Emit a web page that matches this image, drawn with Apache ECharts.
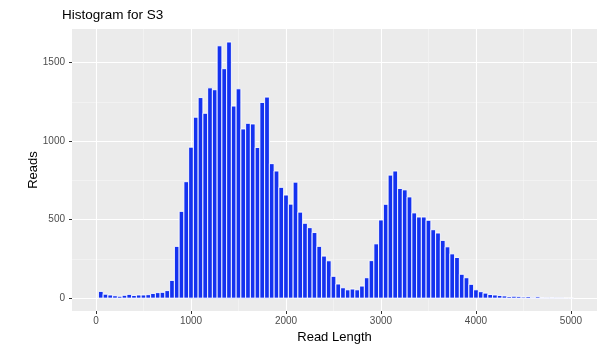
<!DOCTYPE html>
<html>
<head>
<meta charset="utf-8">
<script src="https://cdn.jsdelivr.net/npm/echarts@6/dist/echarts.min.js"></script>
<style>
  html, body { margin: 0; padding: 0; background: #fff; }
  #chart { width: 611px; height: 349px; }
</style>
</head>
<body>
<div id="chart"></div>
<script>
// Read-length histogram, 50-wide bins (bin centres below)
const binWidth = 50;
const binCenters = [
  50, 100, 150, 200, 250, 300, 350, 400, 450, 500,
  550, 600, 650, 700, 750, 800, 850, 900, 950, 1000,
  1050, 1100, 1150, 1200, 1250, 1300, 1350, 1400, 1450, 1500,
  1550, 1600, 1650, 1700, 1750, 1800, 1850, 1900, 1950, 2000,
  2050, 2100, 2150, 2200, 2250, 2300, 2350, 2400, 2450, 2500,
  2550, 2600, 2650, 2700, 2750, 2800, 2850, 2900, 2950, 3000,
  3050, 3100, 3150, 3200, 3250, 3300, 3350, 3400, 3450, 3500,
  3550, 3600, 3650, 3700, 3750, 3800, 3850, 3900, 3950, 4000,
  4050, 4100, 4150, 4200, 4250, 4300, 4350, 4400, 4450, 4500,
  4550, 4600, 4650, 4700, 4750, 4800, 4850, 4900, 4950, 5000
];
const readCounts = [
  43, 25, 20, 15, 12, 18, 24, 17, 20, 20,
  22, 30, 35, 37, 48, 113, 330, 553, 742, 962,
  1153, 1278, 1178, 1340, 1328, 1608, 1462, 1632, 1224, 1334,
  1078, 1114, 1110, 960, 1247, 1281, 857, 810, 706, 657,
  599, 739, 548, 477, 449, 418, 330, 268, 238, 139,
  90, 66, 53, 58, 53, 77, 130, 239, 346, 498,
  598, 784, 810, 699, 690, 645, 543, 517, 517, 496,
  436, 415, 368, 327, 282, 259, 152, 130, 88, 53,
  41, 32, 23, 20, 17, 14, 10, 12, 11, 7,
  10, 5, 9, 4, 3, 4, 2, 2, 1, 1
];

// Axis breaks
const xMajor = [0, 1000, 2000, 3000, 4000, 5000];
const xMinor = [500, 1500, 2500, 3500, 4500];
const yMajor = [0, 500, 1000, 1500];
const yMinor = [250, 750, 1250];

const xMin = -253, xMax = 5274;
const yMin = -82, yMax = 1715;

const chart = echarts.init(document.getElementById('chart'), null, { renderer: 'canvas' });

const fontFamily = 'Liberation Sans, Arial, sans-serif';
const labelStyle = { color: '#4d4d4d', fontSize: 10, fontFamily: fontFamily, formatter: v => String(v) };
const nameStyle = { color: '#000', fontSize: 13, fontFamily: fontFamily };

chart.setOption({
  animation: false,
  backgroundColor: '#ffffff',
  title: {
    text: 'Histogram for S3',
    left: 62,
    top: 8,
    padding: 0,
    textStyle: { color: '#000', fontSize: 13.5, fontWeight: 'normal', fontFamily: fontFamily }
  },
  grid: {
    left: 72, right: 14, top: 29, bottom: 38,
    show: true, backgroundColor: '#ebebeb', borderWidth: 0
  },
  xAxis: [
    {
      type: 'value', min: xMin, max: xMax, position: 'bottom',
      name: 'Read Length', nameLocation: 'middle', nameGap: 20, nameMoveOverlap: false,
      nameTextStyle: nameStyle,
      axisLine: { show: false, onZero: false },
      axisTick: { show: true, length: 3, lineStyle: { color: '#333', width: 1 }, customValues: xMajor },
      axisLabel: Object.assign({ margin: 5, customValues: xMajor }, labelStyle),
      splitLine: { show: true, lineStyle: { color: '#ffffff', width: 1.1 } }
    },
    {
      type: 'value', min: xMin, max: xMax, position: 'bottom',
      axisLine: { show: false, onZero: false },
      axisTick: { show: false, customValues: xMinor },
      axisLabel: { show: false, customValues: xMinor },
      splitLine: { show: true, lineStyle: { color: '#f7f7f7', width: 0.6 } }
    }
  ],
  yAxis: [
    {
      type: 'value', min: yMin, max: yMax, position: 'left',
      name: 'Reads', nameLocation: 'middle', nameGap: 32, nameRotate: 90, nameMoveOverlap: false,
      nameTextStyle: nameStyle,
      axisLine: { show: false, onZero: false },
      axisTick: { show: true, length: 3, lineStyle: { color: '#333', width: 1 }, customValues: yMajor },
      axisLabel: Object.assign({ margin: 7, customValues: yMajor }, labelStyle),
      splitLine: { show: true, lineStyle: { color: '#ffffff', width: 1.1 } }
    },
    {
      type: 'value', min: yMin, max: yMax, position: 'left',
      axisLine: { show: false, onZero: false },
      axisTick: { show: false, customValues: yMinor },
      axisLabel: { show: false, customValues: yMinor },
      splitLine: { show: true, lineStyle: { color: '#f7f7f7', width: 0.6 } }
    }
  ],
  series: [{
    type: 'custom',
    xAxisIndex: 0,
    yAxisIndex: 0,
    clip: true,
    data: binCenters.map((c, i) => [c, readCounts[i]]),
    encode: { x: 0, y: 1 },
    renderItem: function (params, api) {
      const c = api.value(0);
      const v = api.value(1);
      const topLeft = api.coord([c - binWidth / 2, v]);
      const bottomRight = api.coord([c + binWidth / 2, 0]);
      return {
        type: 'rect',
        shape: {
          x: topLeft[0],
          y: topLeft[1],
          width: bottomRight[0] - topLeft[0],
          height: bottomRight[1] - topLeft[1]
        },
        style: { fill: '#1432f0', stroke: '#ffffff', lineWidth: 0.9 }
      };
    }
  }]
});
</script>
</body>
</html>
